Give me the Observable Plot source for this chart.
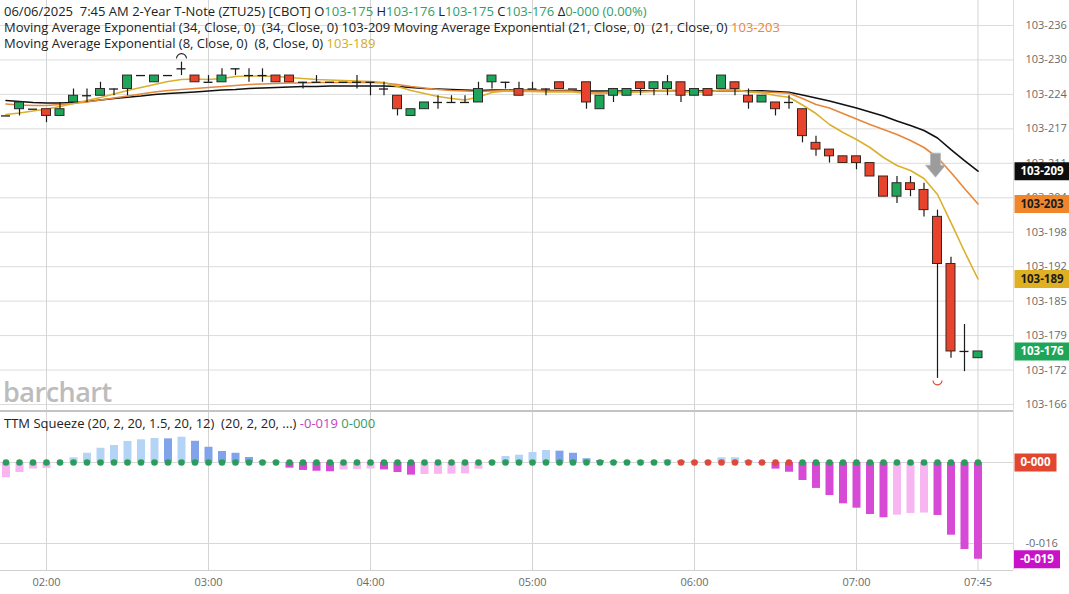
<!DOCTYPE html>
<html><head><meta charset="utf-8">
<script src="https://cdn.jsdelivr.net/npm/d3@7"></script>
<script src="https://cdn.jsdelivr.net/npm/@observablehq/plot@0.6"></script>
<style>
body{margin:0;background:#fff;font-family:"Open Sans",sans-serif;}
#wrap{position:relative;width:1069px;height:594px;overflow:hidden;background:#fff;}
</style></head><body><div id="wrap"></div>
<script>
// ---- data: 5-minute bars, 2-Year T-Note (ZTU25), prices in 32nds above 103 ----
const startTime = "2025-06-06T01:45:00Z";
const open  = [22,22.125,22.125,22.125,22,22.25,22.375,22.375,22.5,22.5, 22.75,22.625,22.75,22.875,22.75,22.625,22.625,22.875,22.75,22.75, 22.75,22.75,22.625,22.625,22.625,22.625,22.625,22.625,22.5,22.375, 22,22.125,22.25,22.25,22.25,22.25,22.625,22.625,22.5,22.5, 22.5,22.625,22.5,22.625,22.125,22.375,22.375,22.625,22.5,22.5, 22.625,22.375,22.5,22.5,22.625,22.375,22.25,22.25,22.25,22.125, 21.5,21.375,21.25,21.25,21.125,20.875,20.5,20.75,20.625,20.125, 19.25,17.625,17.5];
const high  = [22,22.25,22.125,22.125,22.25,22.5,22.5,22.625,22.5,22.75, 22.75,22.75,22.75,23,22.75,22.75,22.875,22.875,22.875,22.875, 22.75,22.75,22.625,22.75,22.625,22.625,22.75,22.625,22.625,22.375, 22.125,22.25,22.375,22.375,22.375,22.625,22.75,22.625,22.625,22.625, 22.5,22.625,22.5,22.625,22.375,22.5,22.5,22.625,22.625,22.75, 22.625,22.5,22.5,22.75,22.625,22.5,22.375,22.25,22.375,22.125, 21.625,21.375,21.25,21.25,21.125,20.875,20.875,20.875,20.75,20.25, 19.375,18.125,17.625];
const low   = [22,22,22.125,21.875,22,22.25,22.25,22.375,22.375,22.375, 22.75,22.625,22.75,22.75,22.625,22.625,22.625,22.75,22.625,22.625, 22.625,22.625,22.5,22.625,22.625,22.625,22.5,22.375,22.375,22, 22,22.125,22.125,22.25,22.25,22.25,22.5,22.5,22.375,22.5, 22.375,22.5,22.5,22.125,22.125,22.25,22.375,22.375,22.375,22.375, 22.25,22.375,22.375,22.5,22.375,22.125,22.25,22,22.125,21.5, 21.25,21.125,21.125,21,20.875,20.5,20.375,20.5,20.125,17.125, 17.5,17.25,17.5];
const close = [22,22.25,22.125,22,22.125,22.375,22.375,22.5,22.5,22.75, 22.75,22.75,22.75,22.875,22.625,22.625,22.75,22.875,22.75,22.75, 22.625,22.625,22.625,22.625,22.625,22.625,22.625,22.625,22.5,22.125, 22.125,22.25,22.25,22.25,22.25,22.5,22.75,22.625,22.375,22.5, 22.5,22.5,22.5,22.25,22.375,22.5,22.5,22.5,22.625,22.625, 22.375,22.5,22.375,22.75,22.5,22.25,22.375,22.125,22.25,21.625, 21.375,21.25,21.125,21.125,20.875,20.5,20.75,20.625,20.25,19.25, 17.625,17.625,17.625];
const ema34 = [22.287,22.268,22.250,22.240,22.240,22.250,22.268,22.296,22.324,22.348, 22.370,22.398,22.417,22.430,22.445,22.463,22.482,22.491,22.510,22.519, 22.528,22.538,22.547,22.547,22.556,22.556,22.556,22.556,22.556,22.547, 22.528,22.510,22.500,22.491,22.482,22.472,22.482,22.480,22.475,22.475, 22.470,22.470,22.470,22.460,22.460,22.460,22.460,22.465,22.465,22.470, 22.465,22.465,22.460,22.470,22.470,22.460,22.467,22.454,22.441,22.389, 22.333,22.277,22.212,22.147,22.073,21.999,21.906,21.822,21.729,21.590, 21.376,21.172,20.973];
const ema21 = [22.222,22.203,22.194,22.194,22.212,22.231,22.259,22.296,22.333,22.370, 22.407,22.445,22.472,22.491,22.510,22.528,22.547,22.565,22.584,22.593, 22.603,22.612,22.612,22.621,22.621,22.621,22.621,22.621,22.612,22.584, 22.547,22.519,22.491,22.472,22.463,22.454,22.463,22.470,22.465,22.465, 22.460,22.460,22.460,22.445,22.440,22.445,22.450,22.455,22.460,22.465, 22.455,22.455,22.450,22.470,22.470,22.455,22.445,22.435,22.422,22.324, 22.212,22.147,22.045,21.943,21.841,21.748,21.655,21.544,21.414,21.228, 20.949,20.652,20.364];
const ema8  = [22.027,22.055,22.092,22.129,22.175,22.231,22.287,22.342,22.407,22.472, 22.528,22.584,22.640,22.677,22.686,22.677,22.695,22.733,22.742,22.742, 22.733,22.714,22.695,22.677,22.668,22.658,22.649,22.640,22.621,22.547, 22.472,22.417,22.361,22.324,22.296,22.352,22.435,22.463,22.454,22.454, 22.445,22.445,22.445,22.417,22.417,22.426,22.435,22.445,22.454,22.472, 22.445,22.445,22.435,22.491,22.491,22.445,22.426,22.380,22.348,22.203, 22.045,21.841,21.692,21.562,21.414,21.228,21.079,20.986,20.838,20.541, 20.020,19.482,18.971];
// TTM Squeeze momentum (price units) and squeeze state (r = on, g = off)
const momentum = [-0.0094,-0.0062,-0.0040,-0.0036,-0.0005,0.0029,0.0057,0.0088,0.0105,0.0130, 0.0140,0.0148,0.0146,0.0156,0.0131,0.0094,0.0068,0.0057,0.0031,0.0006, 0.0003,-0.0035,-0.0049,-0.0054,-0.0057,-0.0046,-0.0043,-0.0040,-0.0046,-0.0062, -0.0078,-0.0074,-0.0073,-0.0072,-0.0070,-0.0041,0.0005,0.0037,0.0045,0.0062, 0.0074,0.0070,0.0057,0.0023,0.0012,0.0006,0.0004,0.0012,0.0004,0.0016, 0.0008,0.0006,0.0008,0.0029,0.0029,0.0010,-0.0005,-0.0041,-0.0060,-0.0111, -0.0160,-0.0204,-0.0255,-0.0282,-0.0321,-0.0341,-0.0325,-0.0315,-0.0312,-0.0327, -0.0449,-0.0537,-0.0597];
const squeeze = "gggggggggggggggggggggggggggggggggggggggggggggggggg" + "rrrrrrrrr" + "gggggggggggggg";
const priceTicks = [103.52,103.54,103.56,103.58,103.60,103.62,103.64,103.66,103.68,103.70,103.72,103.74];
const timeTicks = ["02:00","03:00","04:00","05:00","06:00","07:00","07:45"];

// ---- build tables ----
const t0 = new Date(startTime).getTime();
const px = v => 103 + v / 32;
const bars = close.map((c, i) => ({
  t: new Date(t0 + i * 300000), o: px(open[i]), h: px(high[i]), l: px(low[i]), c: px(c),
  e34: px(ema34[i]), e21: px(ema21[i]), e8: px(ema8[i])
}));
const mom = momentum.map((v, i) => {
  const p = i > 0 ? momentum[i - 1] : v;
  const col = v >= 0 ? (v >= p ? "#b4d4f6" : "#80a3ea") : (v >= p ? "#f7b5f1" : "#d64ad6");
  return {t: bars[i].t, v, col, sq: squeeze[i] === "r" ? "#de4a3a" : "#2a9d5c"};
});
const xT = timeTicks.map(s => new Date(`2025-06-06T${s}:00Z`));
const xDomain = [new Date(t0 - 122200), new Date(t0 + 72 * 300000 + 789000)];

function fmt(d) {
  const s = d < -1e-9 ? "-" : "";
  const a = Math.abs(d);
  const w = Math.floor(a + 1e-9);
  const t = Math.floor((a - w) * 320 + 1e-6);
  return `${s}${w}-${String(t).padStart(3, "0")}`;
}
const boxSym = (w, h) => ({draw(ctx) { ctx.rect(-w / 2, -h / 2, w, h); }});
const arcUp = {draw(ctx) { ctx.arc(0, 0, 5, Math.PI, 2 * Math.PI); }};
const arcDown = {draw(ctx) { ctx.arc(0, 0, 4.5, 0, Math.PI); }};
const arrowSym = {draw(ctx) {
  ctx.moveTo(-5, -12); ctx.lineTo(5, -12); ctx.lineTo(5, 0); ctx.lineTo(10, 0);
  ctx.lineTo(0, 12); ctx.lineTo(-10, 0); ctx.lineTo(-5, 0); ctx.closePath();
}};
const halfW = 100000;
const style = {fontFamily: "'Open Sans', sans-serif", fontSize: "11px", color: "#6a6a6a", background: "transparent", overflow: "visible"};

function valueBox(v, bg, fg, w, dx) {
  return [
    Plot.dot([v], {y: d => d, frameAnchor: "right", dx, symbol: boxSym(w, 18), fill: bg, stroke: null}),
    Plot.text([v], {y: d => d, frameAnchor: "right", dx, textAnchor: "middle", text: d => fmt(d), fill: fg, fontWeight: "bold", fontSize: 11.5})
  ];
}
const last = bars[bars.length - 1];
const up = bars.filter(d => d.c > d.o), down = bars.filter(d => d.c < d.o), doji = bars.filter(d => d.c === d.o);
const hiBar = bars.reduce((a, b) => b.h > a.h ? b : a);
const loBar = bars.reduce((a, b) => b.l < a.l ? b : a);

const main = Plot.plot({
  width: 1069, height: 411, marginTop: 0, marginBottom: 0, marginLeft: 0, marginRight: 56,
  x: {type: "utc", domain: xDomain, axis: null},
  y: {domain: [103.51593, 103.75451], axis: "right", ticks: priceTicks, tickFormat: fmt, tickSize: 0, tickPadding: 12, label: null},
  color: {type: "identity"},
  style,
  marks: [
    Plot.ruleY(priceTicks, {stroke: "#dcdcdc"}),
    Plot.ruleX(xT, {stroke: "#d4d4d4"}),
    Plot.line(bars, {x: "t", y: "e34", stroke: "#111", strokeWidth: 1.6}),
    Plot.line(bars, {x: "t", y: "e21", stroke: "#e8873a", strokeWidth: 1.6}),
    Plot.line(bars, {x: "t", y: "e8", stroke: "#dbb02c", strokeWidth: 1.6}),
    Plot.ruleX(bars.filter(d => d.h > d.l), {x: "t", y1: "l", y2: "h", stroke: "#1a1a1a", strokeWidth: 1.2}),
    Plot.rect(up, {x1: d => new Date(+d.t - halfW), x2: d => new Date(+d.t + halfW), y1: "o", y2: "c", fill: "#1ea55a", stroke: "#2b2b2b", strokeWidth: 1}),
    Plot.rect(down, {x1: d => new Date(+d.t - halfW), x2: d => new Date(+d.t + halfW), y1: "o", y2: "c", fill: "#e8432c", stroke: "#3a2620", strokeWidth: 1}),
    Plot.ruleY(doji, {y: "o", x1: d => new Date(+d.t - halfW), x2: d => new Date(+d.t + halfW), stroke: "#1a1a1a", strokeWidth: 1.3}),
    Plot.dot([hiBar], {x: "t", y: "h", dy: -3.5, symbol: arcUp, fill: "none", stroke: "#222", strokeWidth: 1.1}),
    Plot.dot([loBar], {x: "t", y: "l", dy: 2, symbol: arcDown, fill: "none", stroke: "#e0442e", strokeWidth: 1.1}),
    Plot.dot([loBar], {x: "t", y: "h", dx: -2, dy: -45, symbol: arrowSym, fill: "#9c9c9c", stroke: "#b8b8b8", strokeWidth: 0.8}),
    ...valueBox(last.e34, "#0d0d0d", "#fff", 55, 28.5),
    ...valueBox(last.e21, "#f0862c", "#1c1c1c", 55, 28.5),
    ...valueBox(last.e8, "#e0b023", "#1c1c1c", 55, 28.5),
    ...valueBox(last.c, "#1fa55a", "#fff", 55, 28.5)
  ]
});

const lastMom = mom[mom.length - 1];
const lower = Plot.plot({
  width: 1069, height: 183, marginTop: 0, marginBottom: 24, marginLeft: 0, marginRight: 56,
  x: {type: "utc", domain: xDomain, ticks: xT, tickFormat: d3.utcFormat("%H:%M"), tickSize: 0, tickPadding: 8, label: null},
  y: {domain: [-0.06667, 0.03148], axis: "right", ticks: [-0.05], tickFormat: fmt, tickSize: 0, tickPadding: 12, label: null},
  color: {type: "identity"},
  style,
  marks: [
    Plot.ruleX(xT, {stroke: "#d4d4d4"}),
    Plot.ruleY([0, -0.05], {stroke: "#d8d8d8"}),
    Plot.ruleX(mom, {x: "t", y1: 0, y2: "v", stroke: "col", strokeWidth: 8}),
    Plot.dot(mom, {x: "t", y: 0, r: 3.3, fill: "sq", stroke: null}),
    ...valueBox(0, "#e2462e", "#fff", 42, 22),
    ...valueBox(lastMom.v, "#c812c8", "#fff", 46, 23.5)
  ]
});

// ---- page assembly ----
const wrap = document.getElementById("wrap");
function place(el, top, left) { el.style.position = "absolute"; el.style.top = top + "px"; el.style.left = left + "px"; wrap.appendChild(el); return el; }
place(main, 0, 0);
place(lower, 411, 0);
function div(css, html) { const d = document.createElement("div"); d.style.cssText = "position:absolute;" + css; if (html) d.innerHTML = html; wrap.appendChild(d); return d; }
div("left:0;top:410px;width:1013px;height:2px;background:#c4c4c4;");
div("left:1013px;top:0;width:1px;height:570px;background:#dedede;");
div("left:0;top:570px;width:1013px;height:1px;background:#cfcfcf;");
div("left:3px;top:373px;font-size:27px;font-weight:600;color:#bcbcbc;letter-spacing:-0.5px;", "barchart");
const g = s => `<span style="color:#2f9e68">${s}</span>`;
const L = bars[bars.length - 1], P = bars[bars.length - 2];
const chg = L.c - P.c;
const hdr = "font-size:13px;white-space:pre;color:#222;line-height:16px;";
div("left:4px;top:3px;" + hdr,
  `06/06/2025  7:45 AM 2-Year T-Note (ZTU25) [CBOT] O${g(fmt(L.o))} H${g(fmt(L.h))} L${g(fmt(L.l))} C${g(fmt(L.c))} Δ${g(fmt(chg) + " (" + (chg / P.c * 100).toFixed(2) + "%)")}`);
div("left:4px;top:19px;" + hdr,
  `Moving Average Exponential (34, Close, 0)  (34, Close, 0) ${fmt(L.e34)} Moving Average Exponential (21, Close, 0)  (21, Close, 0) <span style="color:#e8873a">${fmt(L.e21)}</span>`);
div("left:4px;top:35px;" + hdr,
  `Moving Average Exponential (8, Close, 0)  (8, Close, 0) <span style="color:#d6aa22">${fmt(L.e8)}</span>`);
div("left:4px;top:415px;" + hdr,
  `TTM Squeeze (20, 2, 20, 1.5, 20, 12)  (20, 2, 20, ...) <span style="color:#c43ec4">${fmt(lastMom.v)}</span> ${g(fmt(0))}`);
</script></body></html>
